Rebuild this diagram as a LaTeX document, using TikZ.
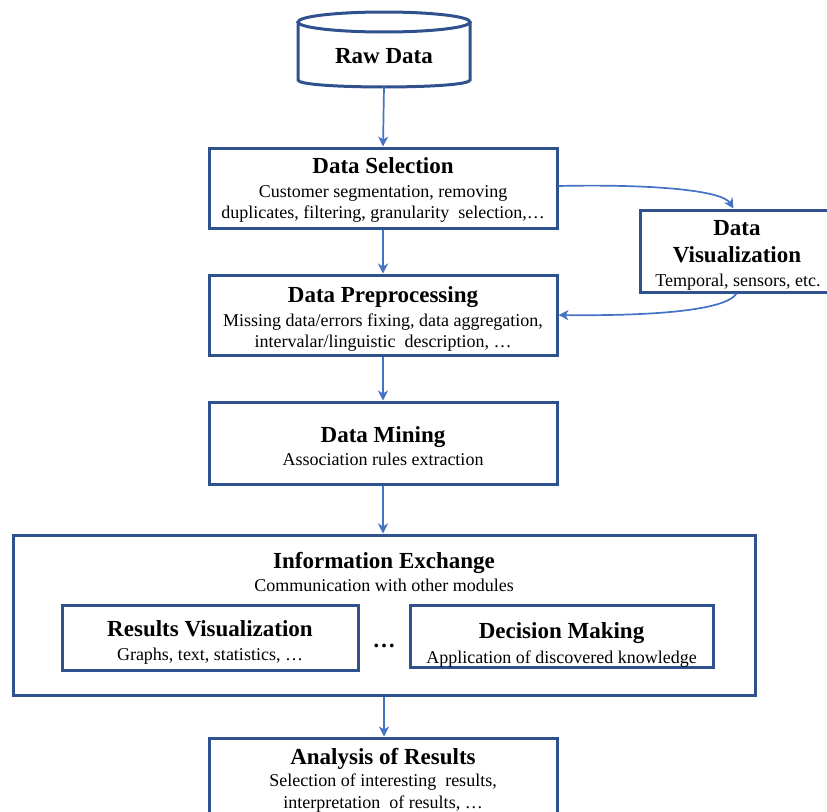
\documentclass[tikz,border=0pt]{standalone}
\usepackage{fontspec}
\setmainfont{Liberation Serif}
\usetikzlibrary{arrows.meta,calc}
\definecolor{boxblue}{RGB}{47,82,143}
\definecolor{arrblue}{RGB}{68,114,196}
\tikzset{
  box/.style={draw=boxblue, line width=3pt, rectangle, inner sep=0pt},
  ttl/.style={font=\fontsize{23}{27}\selectfont\bfseries, anchor=base, inner sep=0pt},
  sub/.style={font=\fontsize{18}{21}\selectfont, anchor=base, inner sep=0pt},
  arr/.style={draw=arrblue, line width=1.7pt, -{Stealth[length=10pt,width=10pt,inset=3pt]}}
}
\begin{document}
\begin{tikzpicture}[x=1pt,y=-1pt]
\useasboundingbox (0,0) rectangle (827,811);
% Raw data cylinder
\draw[boxblue, line width=3pt] (384,22) ellipse [x radius=86, y radius=10];
\draw[boxblue, line width=3pt] (298,22) -- (298,80) .. controls (298,89.3) and (470,89.3) .. (470,80) -- (470,22);
\coordinate (rawb) at (384,87);
\node[ttl] (rawT) at (384,63) {Raw Data};
% boxes
\node[box, minimum width=348, minimum height=80] (sel) at (383,188) {};
\node[ttl] (selT) at (383,173) {Data Selection};
\node[sub] (selS1) at (383,197) {Customer segmentation,\ removing};
\node[sub] (selS2) at (383,218) {duplicates, filtering,\ granularity\ \ selection,\ldots};

\node[box, minimum width=348, minimum height=80] (prep) at (383,315) {};
\node[ttl] (prepT) at (383,302) {Data Preprocessing};
\node[sub] (prepS1) at (383,326) {Missing data/errors fixing,\ data aggregation,};
\node[sub] (prepS2) at (383,347) {intervalar/linguistic\ \ description,\ \ldots};

\node[box, minimum width=348, minimum height=82] (mine) at (383,443) {};
\node[ttl] (mineT) at (383,442) {Data Mining};
\node[sub] (mineS) at (383,465) {Association rules extraction};

\node[box, minimum width=742, minimum height=160] (info) at (384,615) {};
\node[ttl] (infoT) at (384,568) {Information Exchange};
\node[sub] (infoS) at (384,591) {Communication\ with\ other modules};

\node[box, minimum width=296, minimum height=65] (resv) at (210,637.5) {};
\node[ttl] (resvT) at (210,636) {Results Visualization};
\node[sub] (resvS) at (210,660) {Graphs, text,\ statistics,\ \ldots};

\node[font=\fontsize{23}{27}\selectfont\bfseries, anchor=base, inner sep=0pt] (dots) at (384,647) {\ldots};

\node[box, minimum width=303, minimum height=62] (dec) at (561.5,636) {};
\node[ttl] (decT) at (561.5,638) {Decision Making};
\node[sub] (decS) at (561.5,663) {Application\ of discovered knowledge};

\node[box, minimum width=348, minimum height=100] (ana) at (383,788) {};
\node[ttl] (anaT) at (383,764) {Analysis of Results};
\node[sub] (anaS1) at (383,786) {Selection\ of interesting\ \ results,};
\node[sub] (anaS2) at (383,808) {interpretation\ \ of results,\ \ldots};

\node[box, minimum width=194, minimum height=82] (dviz) at (737,251) {};
\node[ttl] (dvizT1) at (737,235) {Data};
\node[ttl] (dvizT2) at (737,262) {Visualization};
\node[sub] (dvizS) at (738,286) {Temporal, sensors, etc.};

% arrows
\draw[arr] (rawb) -- (sel.north);
\draw[arr] (sel.south) -- (prep.north);
\draw[arr] (prep.south) -- (mine.north);
\draw[arr] (mine.south) -- (mine.south |- info.north);
\draw[arr] (info.south) -- (info.south |- ana.north);
\draw[arr] ($(sel.east)+(0,-2)$) .. controls (650,184) and (722,190) .. ($(dviz.north west)+(95,0)$);
\draw[arr] ($(dviz.south west)+(98,0)$) .. controls (725,312) and (640,316) .. (prep.east);
\end{tikzpicture}
\end{document}
